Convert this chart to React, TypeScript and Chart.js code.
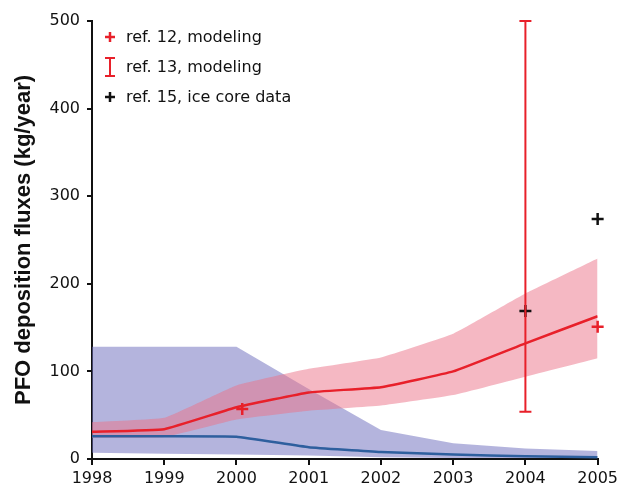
import React, { useEffect, useRef } from "react";
import { Chart, registerables } from "chart.js";

Chart.register(...registerables);

const years = [1998, 1999, 2000, 2001, 2002, 2003, 2004, 2005];
const redMean = [31, 34, 59, 76, 82, 100, 132, 163];
const redUpper = [42, 47, 84, 103, 116, 143, 189, 229];
const redLower = [24, 25, 45, 55, 61, 73, 94, 115];
const blueMean = [26, 26, 25.5, 13.5, 8, 5, 3, 2];
const blueUpper = [128, 128, 128, 80, 33, 18, 12, 9];
const blueLower = [7, 6, 5, 4, 2, 1, 1, 1];

const ref12X = [2000.08, 2005];
const ref12Y = [57, 151];
const ref15X = [2004, 2005];
const ref15Y = [169, 274];
const ref13X = [2004];
const ref13Low = [54];
const ref13High = [500];

const yTicks = [0, 100, 200, 300, 400, 500];
const xTicks = years;

const legendLabels = ["ref. 12, modeling", "ref. 13, modeling", "ref. 15, ice core data"];

const RED = "#e8202a";
const BLUE = "#2e5f9e";
const TICK_FONT = { family: "'DejaVu Sans', sans-serif", size: 16 };

const toXY = (xs: number[], ys: number[]) => xs.map((x, i) => ({ x, y: ys[i] }));

const errorBarPlugin = {
  id: "errorBars",
  afterDatasetsDraw(chart: any) {
    const { ctx, scales } = chart;
    const xs = scales.x;
    const ys = scales.y;
    ctx.save();
    ctx.strokeStyle = RED;
    ctx.lineWidth = 2;
    ref13X.forEach((xv, i) => {
      const px = xs.getPixelForValue(xv);
      const top = ys.getPixelForValue(ref13High[i]);
      const bot = ys.getPixelForValue(ref13Low[i]);
      ctx.beginPath();
      ctx.moveTo(px, top);
      ctx.lineTo(px, bot);
      ctx.moveTo(px - 6, top);
      ctx.lineTo(px + 6, top);
      ctx.moveTo(px - 6, bot);
      ctx.lineTo(px + 6, bot);
      ctx.stroke();
    });
    ctx.restore();
  },
};

const legendPlugin = {
  id: "customLegend",
  afterDraw(chart: any) {
    const { ctx } = chart;
    ctx.save();
    const sx = 110;
    const tx = 126;
    const rows = [37, 67, 97];
    ctx.lineWidth = 2.5;
    ctx.strokeStyle = RED;
    ctx.beginPath();
    ctx.moveTo(sx - 5, rows[0]);
    ctx.lineTo(sx + 5, rows[0]);
    ctx.moveTo(sx, rows[0] - 5);
    ctx.lineTo(sx, rows[0] + 5);
    ctx.stroke();
    ctx.lineWidth = 2;
    ctx.beginPath();
    ctx.moveTo(sx, rows[1] - 9);
    ctx.lineTo(sx, rows[1] + 9);
    ctx.moveTo(sx - 5, rows[1] - 9);
    ctx.lineTo(sx + 5, rows[1] - 9);
    ctx.moveTo(sx - 5, rows[1] + 9);
    ctx.lineTo(sx + 5, rows[1] + 9);
    ctx.stroke();
    ctx.lineWidth = 2.5;
    ctx.strokeStyle = "#111";
    ctx.beginPath();
    ctx.moveTo(sx - 5, rows[2]);
    ctx.lineTo(sx + 5, rows[2]);
    ctx.moveTo(sx, rows[2] - 5);
    ctx.lineTo(sx, rows[2] + 5);
    ctx.stroke();
    ctx.fillStyle = "#111";
    ctx.font = "16px 'DejaVu Sans', sans-serif";
    ctx.textBaseline = "middle";
    ctx.textAlign = "left";
    legendLabels.forEach((t, i) => ctx.fillText(t, tx, rows[i] + 1));
    ctx.restore();
  },
};

export default function App() {
  const ref = useRef<HTMLCanvasElement | null>(null);
  useEffect(() => {
    if (!ref.current) return;
    const chart = new Chart(ref.current, {
      type: "line",
      data: {
        datasets: [
          {
            label: "ref12",
            data: toXY(ref12X, ref12Y),
            showLine: false,
            pointStyle: "cross",
            pointRadius: 6,
            pointBorderWidth: 2.5,
            borderColor: RED,
            backgroundColor: RED,
            clip: false,
            order: 0,
          },
          {
            label: "ref15",
            data: toXY(ref15X, ref15Y),
            showLine: false,
            pointStyle: "cross",
            pointRadius: 6,
            pointBorderWidth: 2.5,
            borderColor: "#111",
            backgroundColor: "#111",
            clip: false,
            order: 0,
          },
          {
            label: "redMean",
            data: toXY(years, redMean),
            borderColor: RED,
            borderWidth: 2.5,
            pointRadius: 0,
            tension: 0.1,
            fill: false,
            order: 1,
          },
          {
            label: "blueMean",
            data: toXY(years, blueMean),
            borderColor: BLUE,
            borderWidth: 2.5,
            pointRadius: 0,
            tension: 0.1,
            fill: false,
            order: 2,
          },
          {
            label: "redUpper",
            data: toXY(years, redUpper),
            borderWidth: 0,
            borderColor: "rgba(0,0,0,0)",
            pointRadius: 0,
            tension: 0.1,
            fill: "+1",
            backgroundColor: "rgba(235,113,135,0.5)",
            order: 3,
          },
          {
            label: "redLower",
            data: toXY(years, redLower),
            borderWidth: 0,
            borderColor: "rgba(0,0,0,0)",
            pointRadius: 0,
            tension: 0.1,
            fill: false,
            order: 3,
          },
          {
            label: "blueUpper",
            data: toXY(years, blueUpper),
            borderWidth: 0,
            borderColor: "rgba(0,0,0,0)",
            pointRadius: 0,
            fill: "+1",
            backgroundColor: "rgba(112,112,190,0.52)",
            order: 4,
          },
          {
            label: "blueLower",
            data: toXY(years, blueLower),
            borderWidth: 0,
            borderColor: "rgba(0,0,0,0)",
            pointRadius: 0,
            fill: false,
            order: 4,
          },
        ],
      },
      options: {
        responsive: false,
        animation: false,
        events: [],
        layout: { padding: { top: 21, right: 23, left: 0, bottom: 0 } },
        plugins: {
          legend: { display: false },
          tooltip: { enabled: false },
        },
        scales: {
          x: {
            type: "linear",
            min: 1998,
            max: 2005,
            afterFit: (s: any) => {
              s.height = 27;
            },
            afterBuildTicks: (s: any) => {
              s.ticks = xTicks.map((v) => ({ value: v }));
            },
            ticks: {
              color: "#111",
              font: TICK_FONT,
              padding: 4,
              maxRotation: 0,
              autoSkip: false,
              callback: (v: any) => String(v),
            },
            grid: {
              drawOnChartArea: false,
              drawTicks: true,
              tickLength: 6,
              color: "#111",
              lineWidth: 2,
            },
            border: { display: true, color: "#111", width: 2 },
          },
          y: {
            type: "linear",
            min: 0,
            max: 500,
            afterFit: (s: any) => {
              s.width = 92;
            },
            afterBuildTicks: (s: any) => {
              s.ticks = yTicks.map((v) => ({ value: v }));
            },
            ticks: {
              color: "#111",
              font: TICK_FONT,
              padding: 7,
              callback: (v: any) => String(v),
            },
            grid: {
              drawOnChartArea: false,
              drawTicks: true,
              tickLength: 5,
              color: "#111",
              lineWidth: 2,
            },
            border: { display: true, color: "#111", width: 2 },
            title: {
              display: true,
              text: "PFO deposition fluxes (kg/year)",
              color: "#111",
              font: { family: "'Liberation Sans', Arial, sans-serif", size: 22, weight: "bold" },
              padding: { top: 11, bottom: 0 },
            },
          },
        },
      },
      plugins: [errorBarPlugin, legendPlugin],
    });
    return () => chart.destroy();
  }, []);
  return (
    <div style={{ position: "fixed", left: 0, top: 0, width: 622, height: 486, background: "#fff" }}>
      <canvas ref={ref} width={622} height={486} style={{ width: 622, height: 486 }} />
    </div>
  );
}
